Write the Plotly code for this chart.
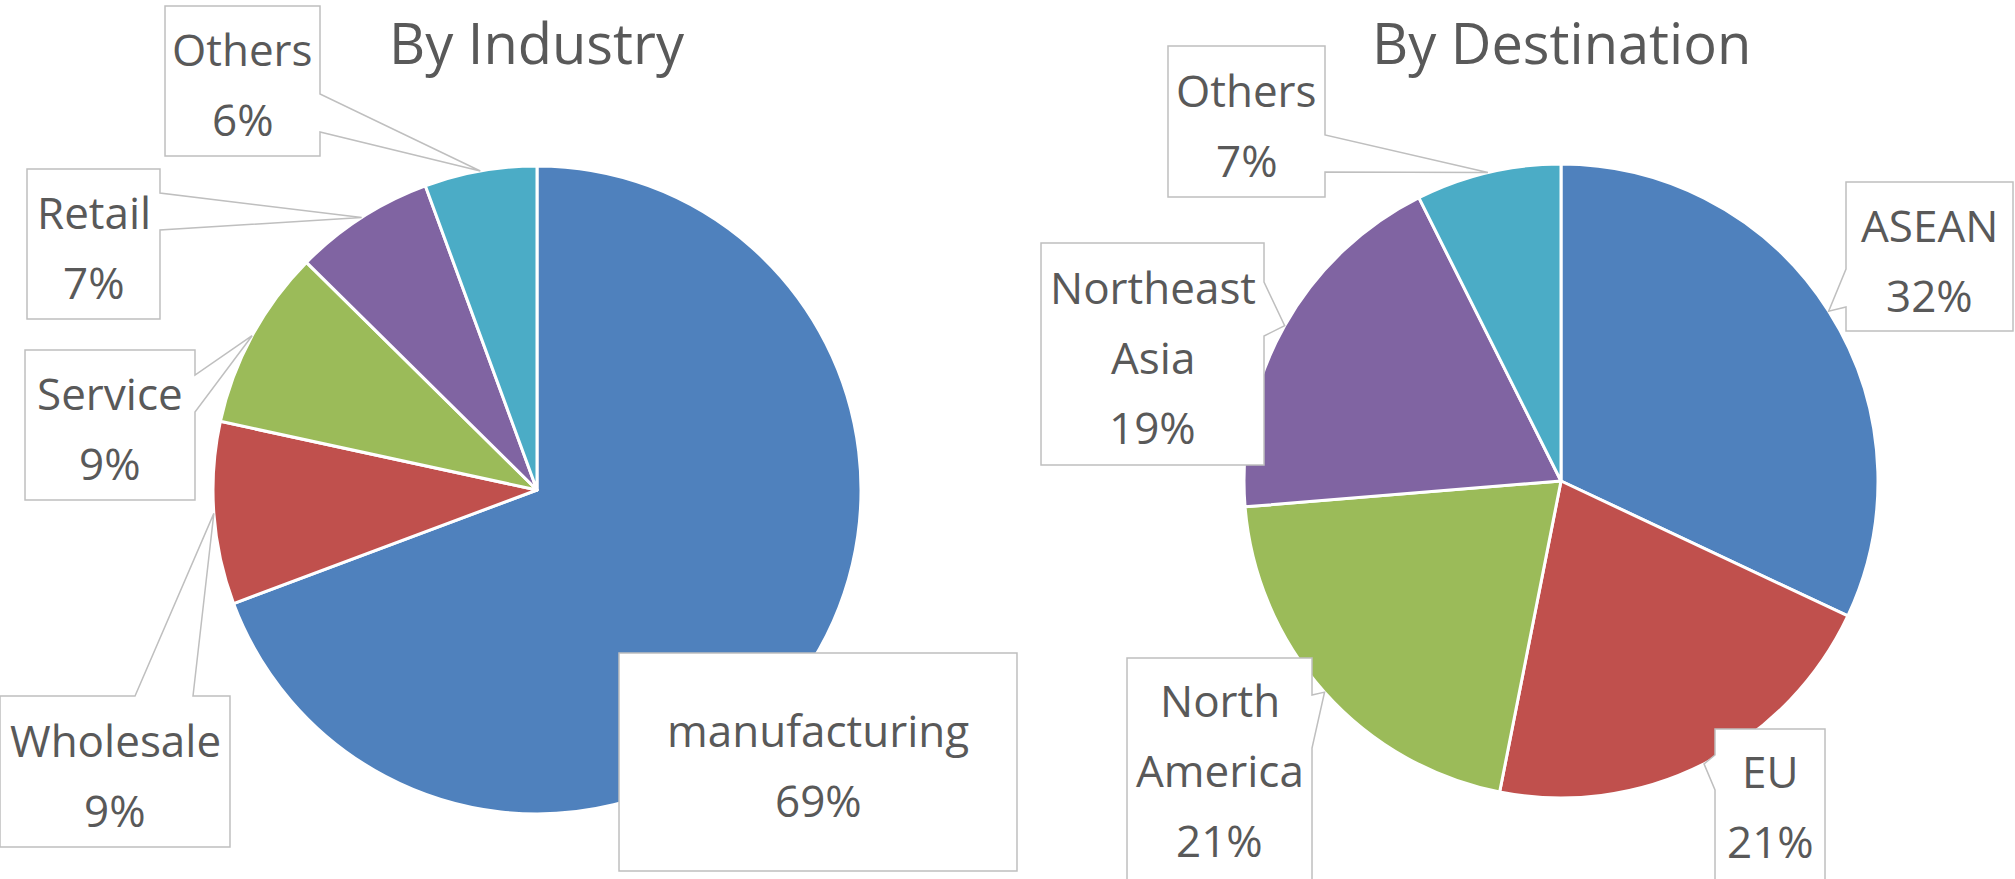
import math
import plotly.graph_objects as go

# ---------------- data ----------------
industry_labels = ["manufacturing", "Wholesale", "Service", "Retail", "Others"]
industry_values = [69.3, 9.1, 9.0, 7.0, 5.6]

dest_labels = ["ASEAN", "EU", "North America", "Northeast Asia", "Others"]
dest_values = [32.0, 21.1, 20.6, 18.9, 7.4]

titles = ["By Industry", "By Destination"]
colors = ["#4F81BD", "#C0504D", "#9BBB59", "#8064A2", "#4BACC6"]

# ---------------- layout constants (pixels) ----------------
W, H = 2015, 879
FONT = "Open Sans"
TXT = "#595959"
BORDER = "#BFBFBF"
LINE_GAP = 70

pies = [
    dict(cx=537, cy=490, r=324),
    dict(cx=1561, cy=481, r=317),
]

# callout boxes: (x0, y0, x1, y1), pointer side, base positions along that side
industry_boxes = [
    dict(box=(619, 653, 1017, 871), side=None, base=None),
    dict(box=(0, 696, 230, 847), side="top", base=(135, 193)),
    dict(box=(25, 350, 195, 500), side="right", base=(375, 412)),
    dict(box=(27, 169, 160, 319), side="right", base=(193, 230)),
    dict(box=(165, 6, 320, 156), side="right", base=(94, 132)),
]
dest_boxes = [
    dict(box=(1846, 182, 2013, 331), side="left", base=(269, 307)),
    dict(box=(1715, 729, 1825, 882), side="left", base=(755, 790)),
    dict(box=(1127, 658, 1312, 882), side="right", base=(695, 748)),
    dict(box=(1041, 243, 1264, 465), side="right", base=(282, 336)),
    dict(box=(1168, 46, 1325, 197), side="right", base=(135, 172)),
]


def px(x):
    return x / W


def py(y):
    return 1 - y / H


def callout_path(b, tip):
    x0, y0, x1, y1 = b["box"]
    side, base = b["side"], b["base"]
    pts = []
    pts.append((x0, y0))
    if side == "top":
        pts += [(base[0], y0), tip, (base[1], y0)]
    pts.append((x1, y0))
    if side == "right":
        pts += [(x1, base[0]), tip, (x1, base[1])]
    pts.append((x1, y1))
    if side == "bottom":
        pts += [(base[1], y1), tip, (base[0], y1)]
    pts.append((x0, y1))
    if side == "left":
        pts += [(x0, base[1]), tip, (x0, base[0])]
    d = "M " + " L ".join(f"{px(x):.5f},{py(y):.5f}" for x, y in pts) + " Z"
    return d


fig = go.Figure()
shapes = []
annotations = []

for i, (labels, values, boxes) in enumerate(
    [(industry_labels, industry_values, industry_boxes),
     (dest_labels, dest_values, dest_boxes)]
):
    p = pies[i]
    fig.add_trace(go.Pie(
        labels=labels,
        values=values,
        sort=False,
        direction="clockwise",
        rotation=0,
        textinfo="none",
        hoverinfo="label+percent",
        marker=dict(colors=colors, line=dict(color="white", width=3)),
        domain=dict(x=[px(p["cx"] - p["r"]), px(p["cx"] + p["r"])],
                    y=[py(p["cy"] + p["r"]), py(p["cy"] - p["r"])]),
        showlegend=False,
    ))
    annotations.append(dict(
        x=px(p["cx"]), y=py(42), xref="paper", yref="paper",
        text=titles[i], showarrow=False, xanchor="center", yanchor="middle",
        font=dict(family=FONT, size=56, color=TXT),
    ))
    total = sum(values)
    cum = 0.0
    for lab, v, b in zip(labels, values, boxes):
        mid = (cum + v / 2) / total * 2 * math.pi
        cum += v
        tip = (p["cx"] + p["r"] * math.sin(mid), p["cy"] - p["r"] * math.cos(mid))
        shapes.append(dict(
            type="path", xref="paper", yref="paper",
            path=callout_path(b, tip),
            fillcolor="white", line=dict(color=BORDER, width=1.5), layer="above",
        ))
        pct = f"{round(v / total * 100)}%"
        lines = lab.split(" ") + [pct]
        x0, y0, x1, y1 = b["box"]
        bcx = (x0 + x1) / 2
        top = y0 + 42 if (y1 > H) else (y0 + y1) / 2 - (len(lines) - 1) / 2 * LINE_GAP + 3
        for k, t in enumerate(lines):
            annotations.append(dict(
                x=px(bcx), y=py(top + k * LINE_GAP), xref="paper", yref="paper",
                text=t, showarrow=False, xanchor="center", yanchor="middle",
                font=dict(family=FONT, size=44, color=TXT),
            ))

fig.update_layout(
    width=W, height=H,
    margin=dict(l=0, r=0, t=0, b=0),
    paper_bgcolor="white", plot_bgcolor="white",
    shapes=shapes, annotations=annotations,
)

fig.write_html("out.html")
